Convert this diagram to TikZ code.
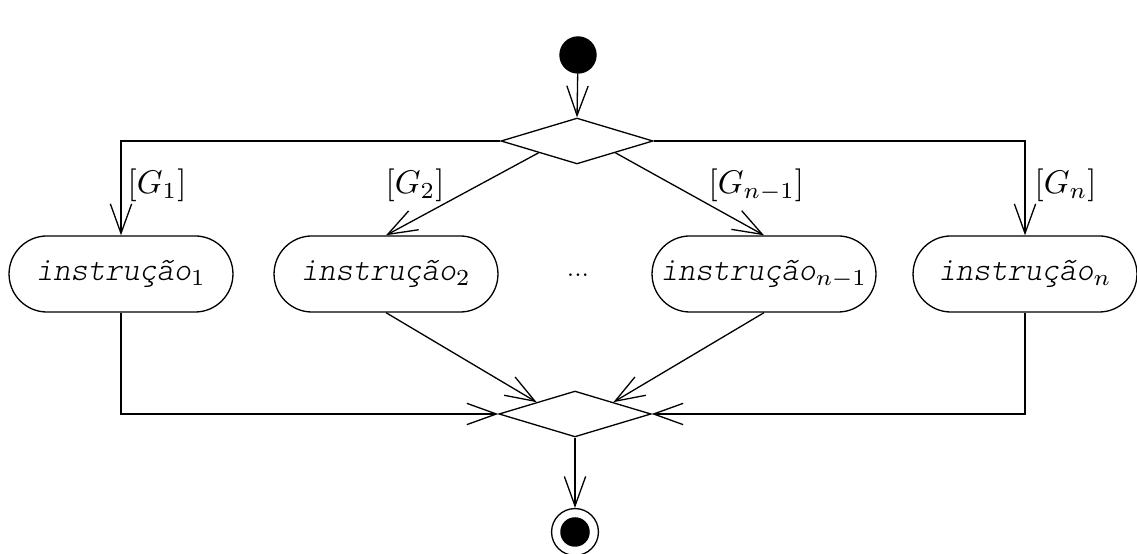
\documentclass[tikz,border=0pt]{standalone}
\usepackage{fontspec}
\newfontfamily\courfont{lmmonolt10-oblique.otf}
\usetikzlibrary{shapes.geometric,shapes.misc,arrows.meta}
\begin{document}
\begin{tikzpicture}[x=0.305pt,y=-0.305pt,
  >={Straight Barb[length=9pt,width=6.5pt]},
  flow/.style={draw,->},
  actbox/.style={draw,rounded rectangle,minimum width=68.3pt,minimum height=23.2pt,inner sep=0pt,font=\courfont},
  decbox/.style={draw,diamond,inner sep=0pt,minimum width=46.4pt,minimum height=14pt},
  guard/.style={anchor=west,inner sep=0pt}]
\useasboundingbox (0,0) rectangle (1137,554);
\node[circle,fill=black,draw,minimum size=11pt,inner sep=0pt] (start) at (578,55) {};
\node[decbox] (d) at (577,141) {};
\node[actbox] (b1) at (121,274) {instrução$_1$};
\node[actbox] (b2) at (386,274) {instrução$_2$};
\node[actbox] (b3) at (764,274) {instrução$_{n-1}$};
\node[actbox] (b4) at (1025,274) {instrução$_n$};
\node (dots) at (578,275) {\scriptsize ...};
\node[decbox] (m) at (575,414) {};
\node[circle,draw,minimum size=14.3pt,inner sep=0pt] (endo) at (575,532) {};
\node[circle,fill=black,minimum size=9pt,inner sep=0pt] (endi) at (575,532) {};
\draw[flow] (start) -- (d.north);
\draw[flow] (d.west) -| (b1.north);
\draw[flow] (d.south west) -- (b2.north);
\draw[flow] (d.south east) -- (b3.north);
\draw[flow] (d.east) -| (b4.north);
\node[guard] (g1) at (127,185) {$[G_1]$};
\node[guard] (g2) at (385,185) {$[G_2]$};
\node[guard] (g3) at (708,185) {$[G_{n-1}]$};
\node[guard] (g4) at (1034,185) {$[G_n]$};
\draw[flow] (b1.south) |- (m.west);
\draw[flow] (b2.south) -- (m.north west);
\draw[flow] (b3.south) -- (m.north east);
\draw[flow] (b4.south) |- (m.east);
\draw[flow] (m.south) -- (endo.north);
\end{tikzpicture}
\end{document}
